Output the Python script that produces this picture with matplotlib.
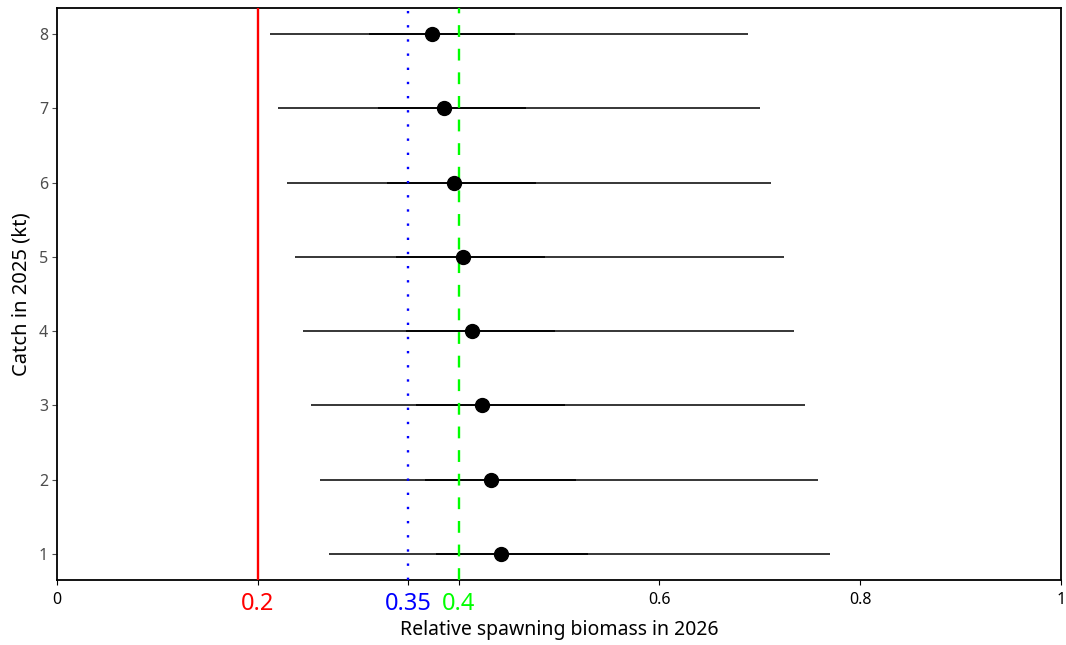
import matplotlib
matplotlib.use("Agg")
import matplotlib.pyplot as plt
import numpy as np

plt.rcParams['font.family'] = ['Noto Sans', 'DejaVu Sans']

# catch scenarios (kt) and relative spawning biomass in 2026
catch = [1, 2, 3, 4, 5, 6, 7, 8]
median = [0.442, 0.432, 0.423, 0.413, 0.404, 0.395, 0.385, 0.374]
lo_95 = [0.271, 0.262, 0.253, 0.245, 0.237, 0.229, 0.220, 0.212]
hi_95 = [0.770, 0.758, 0.745, 0.734, 0.724, 0.711, 0.700, 0.688]
lo_50 = [0.377, 0.367, 0.358, 0.348, 0.338, 0.329, 0.320, 0.311]
hi_50 = [0.529, 0.517, 0.506, 0.496, 0.486, 0.477, 0.467, 0.456]

# reference points
ref_vals = [0.2, 0.35, 0.4]
ref_labels = ['0.2', '0.35', '0.4']
ref_colors = ['#ff0000', '#0000ff', '#00ff00']
ref_styles = ['-', ':', '--']

x_ticks = [0, 0.6, 0.8, 1]
x_ticklabels = ['0', '0.6', '0.8', '1']

fig = plt.figure(figsize=(10.66, 6.45), dpi=100)
ax = fig.add_axes([57 / 1066, 65 / 645, 1004 / 1066, 572 / 645])

ax.hlines(catch, lo_95, hi_95, color='black', lw=1.1, zorder=2)
ax.hlines(catch, lo_50, hi_50, color='black', lw=1.25, zorder=2)

for v, c, ls in zip(ref_vals, ref_colors, ref_styles):
    line = ax.axvline(v, color=c, lw=1.7, ls=ls, zorder=3)
    if ls == ':':
        line.set_dashes((1, 5))
    elif ls == '--':
        line.set_dashes((5, 5))

ax.plot(median, catch, 'o', color='black', ms=10, zorder=4)

ax.set_xlim(0, 1)
ax.set_ylim(0.65, 8.35)

ticks = x_ticks + ref_vals
labels = x_ticklabels + ref_labels
ax.set_xticks(ticks)
ax.set_xticklabels(labels)
tl = ax.get_xticklabels()
tk = ax.xaxis.get_major_ticks()
for i, v in enumerate(ticks):
    if v in ref_vals:
        j = ref_vals.index(v)
        tl[i].set_color(ref_colors[j])
        tl[i].set_fontsize(17)
        tk[i].tick1line.set_color(ref_colors[j])
    else:
        tl[i].set_color('black')
        tl[i].set_fontsize(11.5)

ax.set_yticks(catch)
ax.tick_params(axis='y', colors='#4d4d4d', labelsize=11.5, length=3.5, width=0.8, pad=3)
ax.tick_params(axis='x', length=3.5, width=0.8, pad=5)

for s in ax.spines.values():
    s.set_linewidth(1.3)
    s.set_color('black')

ax.set_xlabel('Relative spawning biomass in 2026', fontsize=14, labelpad=3)
ax.set_ylabel('Catch in 2025 (kt)', fontsize=14.5, labelpad=5)

fig.savefig('out.png', dpi=100)
